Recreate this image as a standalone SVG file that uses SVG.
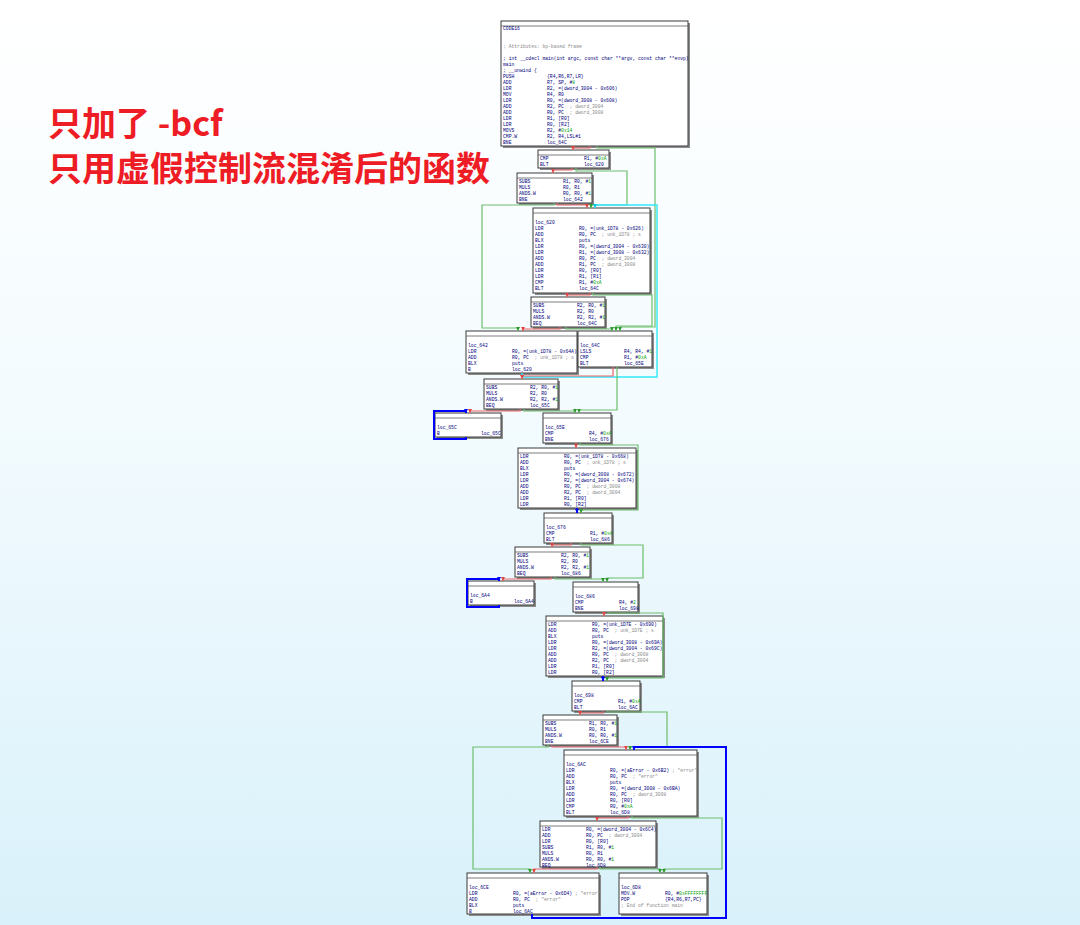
<svg xmlns="http://www.w3.org/2000/svg" width="1080" height="925" viewBox="0 0 1080 925">
<defs>
<linearGradient id="bg" x1="0" y1="0" x2="0" y2="1">
<stop offset="0" stop-color="#ffffff"/>
<stop offset="0.45" stop-color="#f3fbfe"/>
<stop offset="1" stop-color="#d9f1fa"/>
</linearGradient>
<marker id="mr" viewBox="0 0 6 6" refX="6" refY="3" markerWidth="4" markerHeight="4" orient="auto" markerUnits="userSpaceOnUse"><path d="M0,0L6,3L0,6z" fill="#e04848"/></marker>
<marker id="mg" viewBox="0 0 6 6" refX="6" refY="3" markerWidth="4" markerHeight="4" orient="auto" markerUnits="userSpaceOnUse"><path d="M0,0L6,3L0,6z" fill="#2f9a2f"/></marker>
<marker id="mb" viewBox="0 0 6 6" refX="6" refY="3" markerWidth="4" markerHeight="4" orient="auto" markerUnits="userSpaceOnUse"><path d="M0,0L6,3L0,6z" fill="#0000ff"/></marker>
<marker id="mc" viewBox="0 0 6 6" refX="6" refY="3" markerWidth="4" markerHeight="4" orient="auto" markerUnits="userSpaceOnUse"><path d="M0,0L6,3L0,6z" fill="#00c8e0"/></marker>
</defs>
<style>
.title{font-family:"Noto Sans CJK SC","Noto Sans",sans-serif;font-weight:bold;font-size:34px;fill:#ee1c24}
.nd text{font-family:"Liberation Mono",monospace;font-size:4.7px;fill:#00007b;white-space:pre}
.nd .g{fill:#8a8a8a}
.nd .n{fill:#00a000}
.box{fill:#ffffff;stroke:#3a3a3a;stroke-width:1}
.sh{fill:#8c8c8c}
.hd{stroke:#5a5a5a;stroke-width:0.8}
.e{fill:none;stroke-width:1.2}
.r{stroke:#ea6464;marker-end:url(#mr)}
.gr{stroke:#6cbe6c;marker-end:url(#mg)}
.bl{stroke:#0000ff;stroke-width:2;marker-end:url(#mb)}
.cy{stroke:#33e8ff;stroke-width:1.4;marker-end:url(#mc)}
</style>
<rect width="1080" height="925" fill="url(#bg)"/>
<g id="title">
<text class="title" x="48" y="136">只加了 -bcf</text>
<text class="title" x="48" y="181">只用虚假控制流混淆后的函数</text>
</g>

<g id="b1" class="nd">
<rect class="sh" x="503" y="23" width="187" height="125"/>
<rect class="box" x="501" y="21" width="187" height="125"/>
<line class="hd" x1="501" y1="26" x2="688" y2="26"/>
<text x="503" y="29.7">CODE16</text>
<text x="503" y="47.7" class="g">; Attributes: bp-based frame</text>
<text x="503" y="59.7">; int __cdecl main(int argc, const char **argv, const char **envp)</text>
<text x="503" y="65.7">main</text>
<text x="503" y="71.7">; __unwind {</text>
<text x="503" y="77.7">PUSH</text><text x="547" y="77.7">{R4,R6,R7,LR}</text>
<text x="503" y="83.7">ADD</text><text x="547" y="83.7">R7, SP, #<tspan class="n">8</tspan></text>
<text x="503" y="89.7">LDR</text><text x="547" y="89.7">R2, =(dword_3004 - 0x606)</text>
<text x="503" y="95.7">MOV</text><text x="547" y="95.7">R4, R0</text>
<text x="503" y="101.7">LDR</text><text x="547" y="101.7">R0, =(dword_3008 - 0x608)</text>
<text x="503" y="107.7">ADD</text><text x="547" y="107.7">R2, PC  <tspan class="g">; dword_3004</tspan></text>
<text x="503" y="113.7">ADD</text><text x="547" y="113.7">R0, PC  <tspan class="g">; dword_3008</tspan></text>
<text x="503" y="119.7">LDR</text><text x="547" y="119.7">R1, [R0]</text>
<text x="503" y="125.7">LDR</text><text x="547" y="125.7">R0, [R2]</text>
<text x="503" y="131.7">MOVS</text><text x="547" y="131.7">R2, #<tspan class="n">0x14</tspan></text>
<text x="503" y="137.7">CMP.W</text><text x="547" y="137.7">R2, R4,LSL#1</text>
<text x="503" y="143.7">BNE</text><text x="547" y="143.7">loc_64C</text>
</g>

<g id="b2" class="nd">
<rect class="sh" x="540" y="152" width="71" height="18"/>
<rect class="box" x="538" y="150" width="71" height="18"/>
<line class="hd" x1="538" y1="155" x2="609" y2="155"/>
<text x="540" y="159.7">CMP</text><text x="584" y="159.7">R1, #<tspan class="n">0xA</tspan></text>
<text x="540" y="165.7">BLT</text><text x="584" y="165.7">loc_620</text>
</g>

<g id="b3" class="nd">
<rect class="sh" x="519" y="175" width="75" height="30"/>
<rect class="box" x="517" y="173" width="75" height="30"/>
<line class="hd" x1="517" y1="178" x2="592" y2="178"/>
<text x="519" y="182.7">SUBS</text><text x="563" y="182.7">R1, R0, #<tspan class="n">1</tspan></text>
<text x="519" y="188.7">MULS</text><text x="563" y="188.7">R0, R1</text>
<text x="519" y="194.7">ANDS.W</text><text x="563" y="194.7">R0, R0, #<tspan class="n">1</tspan></text>
<text x="519" y="200.7">BNE</text><text x="563" y="200.7">loc_642</text>
</g>

<g id="b4" class="nd">
<rect class="sh" x="535" y="210" width="117" height="85"/>
<rect class="box" x="533" y="208" width="117" height="85"/>
<line class="hd" x1="533" y1="213" x2="650" y2="213"/>
<text x="535" y="223.7">loc_620</text>
<text x="535" y="229.7">LDR</text><text x="579" y="229.7">R0, =(unk_1D78 - 0x626)</text>
<text x="535" y="235.7">ADD</text><text x="579" y="235.7">R0, PC  <tspan class="g">; unk_1D78 ; s</tspan></text>
<text x="535" y="241.7">BLX</text><text x="579" y="241.7">puts</text>
<text x="535" y="247.7">LDR</text><text x="579" y="247.7">R0, =(dword_3004 - 0x630)</text>
<text x="535" y="253.7">LDR</text><text x="579" y="253.7">R1, =(dword_3008 - 0x632)</text>
<text x="535" y="259.7">ADD</text><text x="579" y="259.7">R0, PC  <tspan class="g">; dword_3004</tspan></text>
<text x="535" y="265.7">ADD</text><text x="579" y="265.7">R1, PC  <tspan class="g">; dword_3008</tspan></text>
<text x="535" y="271.7">LDR</text><text x="579" y="271.7">R0, [R0]</text>
<text x="535" y="277.7">LDR</text><text x="579" y="277.7">R1, [R1]</text>
<text x="535" y="283.7">CMP</text><text x="579" y="283.7">R1, #<tspan class="n">0xA</tspan></text>
<text x="535" y="289.7">BLT</text><text x="579" y="289.7">loc_64C</text>
</g>

<g id="b5" class="nd">
<rect class="sh" x="533" y="299" width="74" height="30"/>
<rect class="box" x="531" y="297" width="74" height="30"/>
<line class="hd" x1="531" y1="302" x2="605" y2="302"/>
<text x="533" y="306.7">SUBS</text><text x="577" y="306.7">R2, R0, #<tspan class="n">1</tspan></text>
<text x="533" y="312.7">MULS</text><text x="577" y="312.7">R2, R0</text>
<text x="533" y="318.7">ANDS.W</text><text x="577" y="318.7">R2, R2, #<tspan class="n">1</tspan></text>
<text x="533" y="324.7">BEQ</text><text x="577" y="324.7">loc_64C</text>
</g>

<g id="b6" class="nd">
<rect class="sh" x="468" y="333" width="111" height="42"/>
<rect class="box" x="466" y="331" width="111" height="42"/>
<line class="hd" x1="466" y1="336" x2="577" y2="336"/>
<text x="468" y="346.7">loc_642</text>
<text x="468" y="352.7">LDR</text><text x="512" y="352.7">R0, =(unk_1D78 - 0x64A)</text>
<text x="468" y="358.7">ADD</text><text x="512" y="358.7">R0, PC  <tspan class="g">; unk_1D78 ; s</tspan></text>
<text x="468" y="364.7">BLX</text><text x="512" y="364.7">puts</text>
<text x="468" y="370.7">B</text><text x="512" y="370.7">loc_620</text>
</g>

<g id="b7" class="nd">
<rect class="sh" x="580" y="333" width="74" height="36"/>
<rect class="box" x="578" y="331" width="74" height="36"/>
<line class="hd" x1="578" y1="336" x2="652" y2="336"/>
<text x="580" y="346.7">loc_64C</text>
<text x="580" y="352.7">LSLS</text><text x="624" y="352.7">R4, R4, #<tspan class="n">1</tspan></text>
<text x="580" y="358.7">CMP</text><text x="624" y="358.7">R1, #<tspan class="n">0xA</tspan></text>
<text x="580" y="364.7">BLT</text><text x="624" y="364.7">loc_65E</text>
</g>

<g id="b8" class="nd">
<rect class="sh" x="486" y="381" width="74" height="30"/>
<rect class="box" x="484" y="379" width="74" height="30"/>
<line class="hd" x1="484" y1="384" x2="558" y2="384"/>
<text x="486" y="388.7">SUBS</text><text x="530" y="388.7">R2, R0, #<tspan class="n">1</tspan></text>
<text x="486" y="394.7">MULS</text><text x="530" y="394.7">R2, R0</text>
<text x="486" y="400.7">ANDS.W</text><text x="530" y="400.7">R2, R2, #<tspan class="n">1</tspan></text>
<text x="486" y="406.7">BEQ</text><text x="530" y="406.7">loc_65C</text>
</g>

<g id="b9" class="nd">
<rect class="sh" x="437" y="415" width="66" height="24"/>
<rect class="box" x="435" y="413" width="66" height="24"/>
<line class="hd" x1="435" y1="418" x2="501" y2="418"/>
<text x="437" y="428.7">loc_65C</text>
<text x="437" y="434.7">B</text><text x="481" y="434.7">loc_65C</text>
</g>

<g id="b10" class="nd">
<rect class="sh" x="545" y="415" width="68" height="30"/>
<rect class="box" x="543" y="413" width="68" height="30"/>
<line class="hd" x1="543" y1="418" x2="611" y2="418"/>
<text x="545" y="428.7">loc_65E</text>
<text x="545" y="434.7">CMP</text><text x="589" y="434.7">R4, #<tspan class="n">0xA</tspan></text>
<text x="545" y="440.7">BNE</text><text x="589" y="440.7">loc_676</text>
</g>

<g id="b11" class="nd">
<rect class="sh" x="520" y="450" width="118" height="60"/>
<rect class="box" x="518" y="448" width="118" height="60"/>
<line class="hd" x1="518" y1="453" x2="636" y2="453"/>
<text x="520" y="457.7">LDR</text><text x="564" y="457.7">R0, =(unk_1D78 - 0x668)</text>
<text x="520" y="463.7">ADD</text><text x="564" y="463.7">R0, PC  <tspan class="g">; unk_1D78 ; s</tspan></text>
<text x="520" y="469.7">BLX</text><text x="564" y="469.7">puts</text>
<text x="520" y="475.7">LDR</text><text x="564" y="475.7">R0, =(dword_3008 - 0x672)</text>
<text x="520" y="481.7">LDR</text><text x="564" y="481.7">R2, =(dword_3004 - 0x674)</text>
<text x="520" y="487.7">ADD</text><text x="564" y="487.7">R0, PC  <tspan class="g">; dword_3008</tspan></text>
<text x="520" y="493.7">ADD</text><text x="564" y="493.7">R2, PC  <tspan class="g">; dword_3004</tspan></text>
<text x="520" y="499.7">LDR</text><text x="564" y="499.7">R1, [R0]</text>
<text x="520" y="505.7">LDR</text><text x="564" y="505.7">R0, [R2]</text>
</g>

<g id="b12" class="nd">
<rect class="sh" x="546" y="515" width="68" height="30"/>
<rect class="box" x="544" y="513" width="68" height="30"/>
<line class="hd" x1="544" y1="518" x2="612" y2="518"/>
<text x="546" y="528.7">loc_676</text>
<text x="546" y="534.7">CMP</text><text x="590" y="534.7">R1, #<tspan class="n">0xA</tspan></text>
<text x="546" y="540.7">BLT</text><text x="590" y="540.7">loc_686</text>
</g>

<g id="b13" class="nd">
<rect class="sh" x="517" y="549" width="75" height="30"/>
<rect class="box" x="515" y="547" width="75" height="30"/>
<line class="hd" x1="515" y1="552" x2="590" y2="552"/>
<text x="517" y="556.7">SUBS</text><text x="561" y="556.7">R2, R0, #<tspan class="n">1</tspan></text>
<text x="517" y="562.7">MULS</text><text x="561" y="562.7">R2, R0</text>
<text x="517" y="568.7">ANDS.W</text><text x="561" y="568.7">R2, R2, #<tspan class="n">1</tspan></text>
<text x="517" y="574.7">BEQ</text><text x="561" y="574.7">loc_686</text>
</g>

<g id="b14" class="nd">
<rect class="sh" x="470" y="583" width="66" height="24"/>
<rect class="box" x="468" y="581" width="66" height="24"/>
<line class="hd" x1="468" y1="586" x2="534" y2="586"/>
<text x="470" y="596.7">loc_6A4</text>
<text x="470" y="602.7">B</text><text x="514" y="602.7">loc_6A4</text>
</g>

<g id="b15" class="nd">
<rect class="sh" x="575" y="584" width="65" height="30"/>
<rect class="box" x="573" y="582" width="65" height="30"/>
<line class="hd" x1="573" y1="587" x2="638" y2="587"/>
<text x="575" y="597.7">loc_686</text>
<text x="575" y="603.7">CMP</text><text x="619" y="603.7">R4, #<tspan class="n">2</tspan></text>
<text x="575" y="609.7">BNE</text><text x="619" y="609.7">loc_698</text>
</g>

<g id="b16" class="nd">
<rect class="sh" x="548" y="618" width="117" height="60"/>
<rect class="box" x="546" y="616" width="117" height="60"/>
<line class="hd" x1="546" y1="621" x2="663" y2="621"/>
<text x="548" y="625.7">LDR</text><text x="592" y="625.7">R0, =(unk_1D7E - 0x690)</text>
<text x="548" y="631.7">ADD</text><text x="592" y="631.7">R0, PC  <tspan class="g">; unk_1D7E ; s</tspan></text>
<text x="548" y="637.7">BLX</text><text x="592" y="637.7">puts</text>
<text x="548" y="643.7">LDR</text><text x="592" y="643.7">R0, =(dword_3008 - 0x69A)</text>
<text x="548" y="649.7">LDR</text><text x="592" y="649.7">R2, =(dword_3004 - 0x69C)</text>
<text x="548" y="655.7">ADD</text><text x="592" y="655.7">R0, PC  <tspan class="g">; dword_3008</tspan></text>
<text x="548" y="661.7">ADD</text><text x="592" y="661.7">R2, PC  <tspan class="g">; dword_3004</tspan></text>
<text x="548" y="667.7">LDR</text><text x="592" y="667.7">R1, [R0]</text>
<text x="548" y="673.7">LDR</text><text x="592" y="673.7">R0, [R2]</text>
</g>

<g id="b17" class="nd">
<rect class="sh" x="574" y="683" width="68" height="30"/>
<rect class="box" x="572" y="681" width="68" height="30"/>
<line class="hd" x1="572" y1="686" x2="640" y2="686"/>
<text x="574" y="696.7">loc_698</text>
<text x="574" y="702.7">CMP</text><text x="618" y="702.7">R1, #<tspan class="n">0xA</tspan></text>
<text x="574" y="708.7">BLT</text><text x="618" y="708.7">loc_6AC</text>
</g>

<g id="b18" class="nd">
<rect class="sh" x="545" y="717" width="74" height="30"/>
<rect class="box" x="543" y="715" width="74" height="30"/>
<line class="hd" x1="543" y1="720" x2="617" y2="720"/>
<text x="545" y="724.7">SUBS</text><text x="589" y="724.7">R1, R0, #<tspan class="n">1</tspan></text>
<text x="545" y="730.7">MULS</text><text x="589" y="730.7">R0, R1</text>
<text x="545" y="736.7">ANDS.W</text><text x="589" y="736.7">R0, R0, #<tspan class="n">1</tspan></text>
<text x="545" y="742.7">BNE</text><text x="589" y="742.7">loc_6CE</text>
</g>

<g id="b19" class="nd">
<rect class="sh" x="566" y="752" width="133" height="66"/>
<rect class="box" x="564" y="750" width="133" height="66"/>
<line class="hd" x1="564" y1="755" x2="697" y2="755"/>
<text x="566" y="765.7">loc_6AC</text>
<text x="566" y="771.7">LDR</text><text x="610" y="771.7">R0, =(aError - 0x6B2) <tspan class="g">; "error"</tspan></text>
<text x="566" y="777.7">ADD</text><text x="610" y="777.7">R0, PC  <tspan class="g">; "error"</tspan></text>
<text x="566" y="783.7">BLX</text><text x="610" y="783.7">puts</text>
<text x="566" y="789.7">LDR</text><text x="610" y="789.7">R0, =(dword_3008 - 0x6BA)</text>
<text x="566" y="795.7">ADD</text><text x="610" y="795.7">R0, PC  <tspan class="g">; dword_3008</tspan></text>
<text x="566" y="801.7">LDR</text><text x="610" y="801.7">R0, [R0]</text>
<text x="566" y="807.7">CMP</text><text x="610" y="807.7">R0, #<tspan class="n">0xA</tspan></text>
<text x="566" y="813.7">BLT</text><text x="610" y="813.7">loc_6D8</text>
</g>

<g id="b20" class="nd">
<rect class="sh" x="542" y="823" width="116" height="46"/>
<rect class="box" x="540" y="821" width="116" height="46"/>
<line class="hd" x1="540" y1="826" x2="656" y2="826"/>
<text x="542" y="830.7">LDR</text><text x="586" y="830.7">R0, =(dword_3004 - 0x6C4)</text>
<text x="542" y="836.7">ADD</text><text x="586" y="836.7">R0, PC  <tspan class="g">; dword_3004</tspan></text>
<text x="542" y="842.7">LDR</text><text x="586" y="842.7">R0, [R0]</text>
<text x="542" y="848.7">SUBS</text><text x="586" y="848.7">R1, R0, #<tspan class="n">1</tspan></text>
<text x="542" y="854.7">MULS</text><text x="586" y="854.7">R0, R1</text>
<text x="542" y="860.7">ANDS.W</text><text x="586" y="860.7">R0, R0, #<tspan class="n">1</tspan></text>
<text x="542" y="866.7">BEQ</text><text x="586" y="866.7">loc_6D8</text>
</g>

<g id="b21" class="nd">
<rect class="sh" x="469" y="875" width="132" height="41"/>
<rect class="box" x="467" y="873" width="132" height="41"/>
<line class="hd" x1="467" y1="878" x2="599" y2="878"/>
<text x="469" y="888.7">loc_6CE</text>
<text x="469" y="894.7">LDR</text><text x="513" y="894.7">R0, =(aError - 0x6D4) <tspan class="g">; "error"</tspan></text>
<text x="469" y="900.7">ADD</text><text x="513" y="900.7">R0, PC  <tspan class="g">; "error"</tspan></text>
<text x="469" y="906.7">BLX</text><text x="513" y="906.7">puts</text>
<text x="469" y="912.7">B</text><text x="513" y="912.7">loc_6AC</text>
</g>

<g id="b22" class="nd">
<rect class="sh" x="621" y="875" width="88" height="41"/>
<rect class="box" x="619" y="873" width="88" height="41"/>
<line class="hd" x1="619" y1="878" x2="707" y2="878"/>
<text x="621" y="888.7">loc_6D8</text>
<text x="621" y="894.7">MOV.W</text><text x="665" y="894.7">R0, #<tspan class="n">0xFFFFFFFF</tspan></text>
<text x="621" y="900.7">POP</text><text x="665" y="900.7">{R4,R6,R7,PC}</text>
<text x="621" y="906.7" class="g">; End of function main</text>
</g>

<g id="edges">
<polyline class="e r" points="590,146 590,148 573,148 573,150"/>
<polyline class="e gr" points="597,146 597,148 655,148 655,327 620,327 620,331"/>
<polyline class="e r" points="572,168 572,170 553,170 553,173"/>
<polyline class="e gr" points="576,168 576,171 627,171 627,205 591,205 591,208"/>
<polyline class="e r" points="557,203 557,205 587,205 587,208"/>
<polyline class="e gr" points="554,203 554,205 482,205 482,328 518,328 518,331"/>
<polyline class="e cy" points="522,373 522,377 657,377 657,205 595,205 595,208"/>
<polyline class="e r" points="590,293 590,295 567,295 567,297"/>
<polyline class="e gr" points="593,293 593,295 652,295 652,326 616,326 616,331"/>
<polyline class="e r" points="560,327 560,329 523,329 523,331"/>
<polyline class="e gr" points="566,327 566,329 612,329 612,331"/>
<polyline class="e r" points="613,367 613,376 522,376 522,379"/>
<polyline class="e gr" points="617,367 617,410 579,410 579,413"/>
<polyline class="e r" points="520,409 520,411 470,411 470,413"/>
<polyline class="e gr" points="524,409 524,411 575,411 575,413"/>
<polyline class="e bl" points="466,437 466,439 434,439 434,411 466,411 466,413"/>
<polyline class="e r" points="576,443 576,448"/>
<polyline class="e gr" points="580,443 580,445 638,445 638,510 581,510 581,513"/>
<polyline class="e bl" points="577,508 577,513"/>
<polyline class="e r" points="571,543 571,545 552,545 552,547"/>
<polyline class="e gr" points="581,543 581,545 643,545 643,578 607,578 607,582"/>
<polyline class="e r" points="551,577 551,579 503,579 503,581"/>
<polyline class="e gr" points="555,577 555,579 603,579 603,582"/>
<polyline class="e bl" points="499,605 499,607 467,607 467,579 499,579 499,581"/>
<polyline class="e r" points="604,612 604,616"/>
<polyline class="e gr" points="608,612 608,613 663,613 663,678 607,678 607,681"/>
<polyline class="e bl" points="603,676 603,681"/>
<polyline class="e r" points="603,711 603,713 580,713 580,715"/>
<polyline class="e gr" points="607,711 607,712 667,712 667,747 630,747 630,750"/>
<polyline class="e r" points="552,745 552,747 626,747 626,750"/>
<polyline class="e gr" points="548,745 548,747 473,747 473,869 530,869 530,873"/>
<polyline class="e bl" points="532,914 532,918 726,918 726,747 634,747 634,750"/>
<polyline class="e r" points="628,816 628,818 597,818 597,821"/>
<polyline class="e gr" points="632,816 632,818 722,818 722,869 664,869 664,873"/>
<polyline class="e r" points="597,867 597,869 534,869 534,873"/>
<polyline class="e gr" points="600,867 600,869 660,869 660,873"/>
</g>
</svg>
